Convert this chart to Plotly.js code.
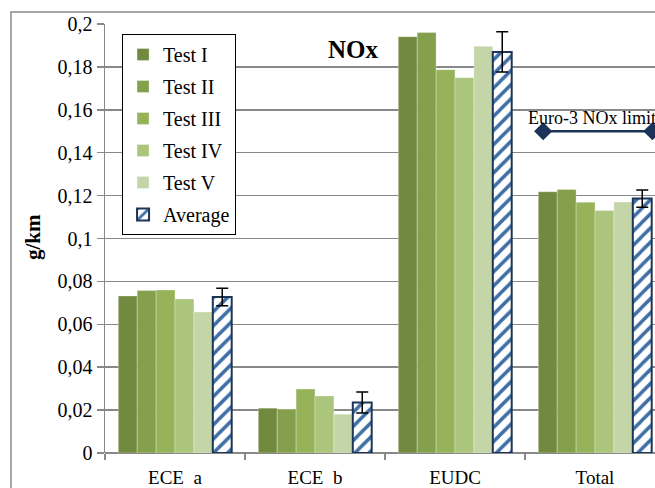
<!DOCTYPE html>
<html>
<head>
<meta charset="utf-8">
<script src="https://cdn.plot.ly/plotly-3.0.1.min.js"></script>
<style>html,body{margin:0;padding:0;background:#fff;}</style>
</head>
<body>
<div id="chart" style="width:655px;height:488px;"></div>
<script>
const categories = ["ECE\u00a0\u00a0a", "ECE\u00a0\u00a0b", "EUDC", "Total"];
const seriesNames = ["Test I", "Test II", "Test III", "Test IV", "Test V"];
const testI   = [0.0732, 0.0209, 0.1941, 0.1218];
const testII  = [0.0757, 0.0204, 0.1960, 0.1229];
const testIII = [0.0760, 0.0298, 0.1787, 0.1169];
const testIV  = [0.0718, 0.0266, 0.1750, 0.1130];
const testV   = [0.0657, 0.0181, 0.1896, 0.1170];
const average = [0.0727, 0.0235, 0.1870, 0.1186];
const averageErr = [0.0041, 0.0049, 0.0094, 0.0040];
const limitX = [2.63, 3.41];
const limitY = [0.15, 0.15];
const limitLabel = "Euro-3 NOx limit";
const yTicks = [0, 0.02, 0.04, 0.06, 0.08, 0.1, 0.12, 0.14, 0.16, 0.18, 0.2];
const yTitle = "g/km";

const greens = ["#728a3f", "#84a04c", "#97b35a", "#abc57c", "#c4d5a8"];
const serif = "Liberation Serif";
const allTests = [testI, testII, testIII, testIV, testV];

const traces = allTests.map((vals, i) => ({
  type: "bar", name: seriesNames[i], x: categories, y: vals,
  legendgroup: "g" + i,
  marker: {color: greens[i], line: {color: "rgba(255,255,255,0.6)", width: 0.5}},
  hoverinfo: "skip"
}));
traces.push({
  type: "bar", name: "Average", x: categories, y: average,
  legendgroup: "g5",
  marker: {
    color: "#ffffff",
    line: {color: "#1d3557", width: 2},
    pattern: {shape: "/", fgcolor: "#3f6fa6", bgcolor: "#ffffff", size: 10, solidity: 0.35}
  },
  error_y: {type: "data", array: averageErr, visible: true, color: "#000000", thickness: 1.5, width: 6},
  hoverinfo: "skip"
});
traces.push({
  type: "scatter", mode: "lines+markers", x: limitX, y: limitY, xaxis: "x2",
  showlegend: false,
  line: {color: "#1b3358", width: 2.5},
  marker: {symbol: "diamond", size: 14, color: "#1b3358"},
  hoverinfo: "skip"
});

const xr = [-0.5, -0.5 + 550 / 140];

const layout = {
  width: 655, height: 488,
  margin: {l: 105, r: 0, t: 24, b: 35, pad: 0},
  paper_bgcolor: "#ffffff", plot_bgcolor: "#ffffff",
  separators: ", ",
  font: {family: serif, size: 19, color: "#000000"},
  barmode: "group", bargap: 0.19, bargroupgap: 0,
  showlegend: true,
  legend: {
    x: 0.031, y: (453 - 34) / 429, xanchor: "left", yanchor: "top",
    bordercolor: "#000000", borderwidth: 1, bgcolor: "#ffffff",
    font: {family: serif, size: 20, color: "#000000"},
    traceorder: "grouped", tracegroupgap: 3
  },
  xaxis: {
    type: "category", range: xr, showgrid: false,
    showline: false, ticks: "outside", tickson: "boundaries",
    ticklen: 6, tickcolor: "#888888", tickwidth: 1.5,
    ticklabelstandoff: 11,
    tickfont: {family: serif, size: 19, color: "#000000"},
    fixedrange: true
  },
  xaxis2: {
    overlaying: "x", range: xr, visible: false, fixedrange: true
  },
  yaxis: {
    range: [0, 0.2], tickmode: "array", tickvals: yTicks, showgrid: true,
    gridcolor: "#888888", gridwidth: 1.5,
    showline: true, linecolor: "#888888", linewidth: 1.5,
    ticks: "outside", ticklen: 7, tickcolor: "#888888", tickwidth: 1.5,
    ticksuffix: "\u00a0",
    zeroline: true, zerolinecolor: "#888888", zerolinewidth: 1.5,
    tickfont: {family: serif, size: 20, color: "#000000"},
    fixedrange: true
  },
  shapes: [{
    type: "rect", xref: "paper", yref: "paper",
    x0: (11 - 105) / 550, x1: 1.2, y0: -0.3, y1: (453 - 12) / 429,
    line: {color: "#8a8a8a", width: 1.5}, fillcolor: "rgba(0,0,0,0)", layer: "below"
  }],
  annotations: [
    {text: "<b>" + yTitle + "</b>", xref: "paper", yref: "paper",
     x: (33 - 105) / 550, y: (453 - 237) / 429, xanchor: "center", yanchor: "middle",
     textangle: -90, showarrow: false, font: {family: serif, size: 21, color: "#000000"}},
    {text: "<b>NOx</b>", xref: "paper", yref: "paper",
     x: (353 - 105) / 550, y: (453 - 50) / 429, xanchor: "center", yanchor: "middle",
     showarrow: false, font: {family: serif, size: 25, color: "#000000"}},
    {text: limitLabel, xref: "x2", yref: "y",
     x: 2.505, y: 0.1562, xanchor: "left", yanchor: "middle",
     showarrow: false, font: {family: serif, size: 18, color: "#000000"}}
  ]
};

Plotly.newPlot("chart", traces, layout, {displayModeBar: false, staticPlot: true});
</script>
</body>
</html>
